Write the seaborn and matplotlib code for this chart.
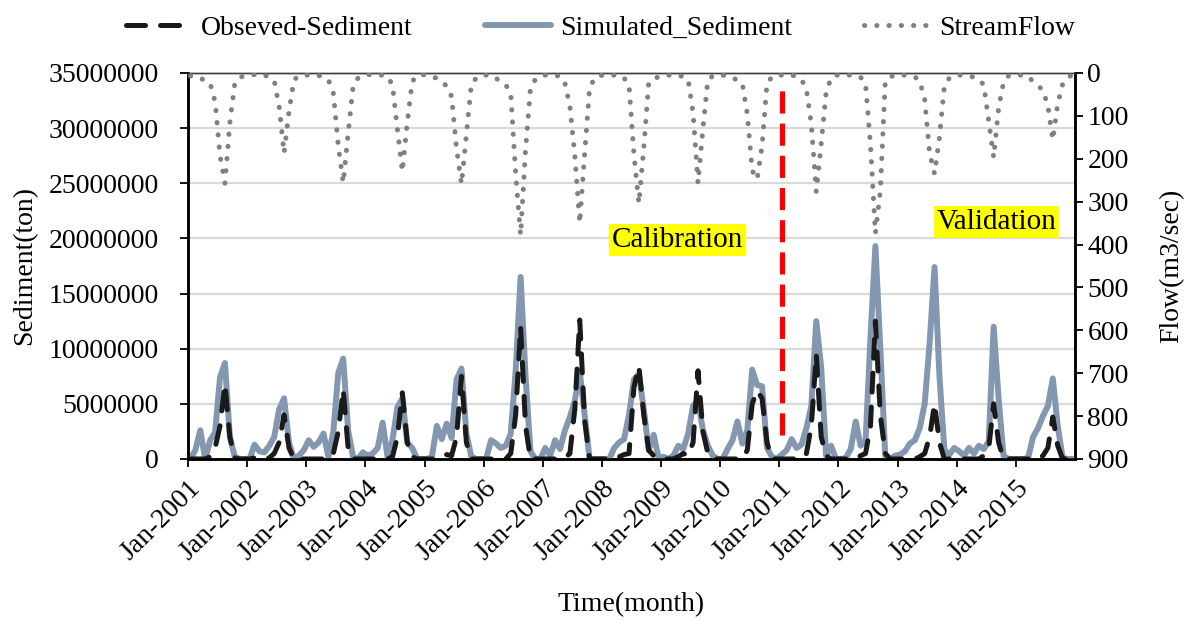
import numpy as np
import pandas as pd
import matplotlib
matplotlib.use("Agg")
import matplotlib.pyplot as plt
import seaborn as sns

# ---------------- data (monthly, Jan-2001 .. Dec-2015) ----------------
years = list(range(2001, 2016))
tick_labels = [f"Jan-{y}" for y in years]

# observed sediment, million tons
observed_mt = [
    0.0, 0.0, 0.0, 0.0, 0.2, 1.0, 3.0, 6.8, 2.0, 0.1, 0.0, 0.0,   # 2001
    0.0, 0.1, 0.1, 0.0, 0.1, 0.5, 1.5, 4.0, 1.0, 0.0, 0.0, 0.0,   # 2002
    0.0, 0.0, 0.0, 0.0, 0.0, 0.5, 2.5, 6.3, 1.0, 0.0, 0.0, 0.0,   # 2003
    0.0, 0.0, 0.0, 0.0, 0.0, 0.2, 2.0, 6.0, 1.5, 0.2, 0.0, 0.0,   # 2004
    0.0, 0.0, 0.0, 0.2, 0.4, 0.3, 2.0, 7.5, 1.5, 0.0, 0.0, 0.0,   # 2005
    0.0, 0.0, 0.0, 0.0, 0.0, 0.5, 4.0, 12.0, 3.0, 0.0, 0.0, 0.0,  # 2006
    0.0, 0.0, 0.0, 0.0, 0.1, 0.5, 4.5, 12.6, 3.5, 0.0, 0.0, 0.0,  # 2007
    0.0, 0.0, 0.0, 0.2, 0.4, 0.5, 6.5, 8.4, 4.0, 0.8, 0.3, 0.0,   # 2008
    0.0, 0.0, 0.0, 0.2, 0.5, 0.3, 1.5, 8.0, 2.5, 0.5, 0.0, 0.0,   # 2009
    0.0, 0.0, 0.0, 0.0, 0.0, 0.8, 5.0, 6.2, 5.5, 1.5, 0.0, 0.0,   # 2010
    0.0, 0.0, 0.0, 0.0, 0.0, 0.5, 3.0, 9.5, 2.0, 0.3, 0.0, 0.0,   # 2011
    0.0, 0.0, 0.0, 0.0, 0.3, 0.5, 3.0, 12.5, 4.0, 0.5, 0.0, 0.0,  # 2012
    0.0, 0.0, 0.0, 0.0, 0.2, 0.5, 2.0, 5.0, 1.5, 0.0, 0.0, 0.0,   # 2013
    0.0, 0.0, 0.0, 0.0, 0.0, 0.3, 1.0, 5.0, 1.5, 0.0, 0.0, 0.0,   # 2014
    0.0, 0.0, 0.0, 0.0, 0.0, 0.3, 1.0, 3.8, 1.2, 0.0, 0.0, 0.0,   # 2015
]

# simulated sediment, million tons
simulated_mt = [
    0.0, 0.8, 2.6, 0.0, 1.7, 2.4, 7.4, 8.7, 2.0, 0.2, 0.0, 0.0,   # 2001
    0.0, 1.3, 0.7, 0.6, 1.2, 2.0, 4.5, 5.5, 1.5, 0.0, 0.3, 0.8,   # 2002
    1.7, 1.1, 1.5, 2.3, 0.2, 2.5, 7.8, 9.1, 2.6, 0.2, 0.0, 0.6,   # 2003
    0.3, 0.5, 1.0, 3.3, 0.2, 1.7, 4.7, 5.5, 1.5, 1.0, 0.0, 0.0,   # 2004
    0.0, 0.2, 3.0, 1.8, 3.2, 1.9, 7.2, 8.2, 2.3, 0.2, 0.0, 0.0,   # 2005
    0.0, 1.7, 1.4, 1.0, 1.2, 2.3, 8.0, 16.5, 7.5, 0.7, 0.0, 0.0,  # 2006
    1.0, 0.3, 1.7, 0.9, 2.6, 3.8, 5.3, 7.9, 4.0, 0.0, 0.0, 0.0,   # 2007
    0.0, 0.0, 1.0, 1.5, 1.8, 4.0, 7.2, 7.7, 4.5, 0.8, 2.2, 0.1,   # 2008
    0.2, 0.0, 0.3, 1.2, 0.9, 2.3, 4.8, 5.3, 2.6, 1.2, 0.3, 0.0,   # 2009
    0.0, 0.9, 1.7, 3.4, 1.4, 2.6, 8.1, 6.7, 6.6, 1.0, 0.2, 0.0,   # 2010
    0.4, 0.8, 1.8, 1.0, 1.3, 2.8, 4.8, 12.5, 8.3, 0.3, 1.2, 0.0,  # 2011
    0.0, 0.1, 0.9, 3.4, 1.2, 1.6, 11.0, 19.3, 10.0, 0.3, 0.0, 0.3,  # 2012
    0.4, 0.7, 1.4, 1.7, 2.8, 5.0, 10.5, 17.4, 7.5, 0.8, 0.4, 1.0,   # 2013
    0.7, 0.3, 1.0, 0.5, 1.2, 0.9, 1.6, 12.0, 5.5, 0.3, 0.0, 0.0,    # 2014
    0.0, 0.0, 0.1, 2.0, 2.8, 3.9, 4.8, 7.3, 3.0, 0.1, 0.0, 0.0,     # 2015
]

# stream flow, m3/sec
streamflow = [
    7, 10, 12, 18, 24, 67, 192, 257, 116, 24, 10, 7,    # 2001
    5, 4, 4, 5, 10, 18, 78, 187, 90, 16, 7, 5,          # 2002
    5, 4, 6, 9, 16, 47, 170, 256, 141, 32, 12, 7,       # 2003
    4, 4, 5, 5, 8, 28, 131, 230, 115, 20, 6, 4,         # 2004
    5, 9, 12, 22, 30, 55, 176, 259, 144, 26, 12, 5,     # 2005
    5, 5, 12, 21, 28, 47, 236, 378, 180, 35, 15, 7,     # 2006
    5, 5, 6, 7, 24, 78, 192, 350, 187, 35, 12, 6,       # 2007
    5, 5, 5, 5, 12, 28, 190, 304, 174, 22, 14, 9,       # 2008
    7, 5, 5, 5, 9, 16, 93, 257, 129, 16, 7, 7,          # 2009
    5, 8, 12, 16, 25, 95, 228, 248, 170, 25, 9, 5,      # 2010
    5, 4, 5, 8, 15, 38, 120, 277, 165, 45, 12, 5,       # 2011
    5, 5, 5, 6, 10, 25, 168, 374, 275, 20, 9, 5,        # 2012
    5, 5, 7, 9, 19, 61, 187, 235, 150, 30, 12, 7,       # 2013
    5, 5, 7, 10, 15, 28, 113, 197, 82, 22, 7, 5,        # 2014
    5, 5, 8, 20, 30, 40, 77, 156, 72, 26, 10, 5,        # 2015
]

split_month = 120.6  # calibration / validation boundary (months from Jan-2001)

# ---------------- figure ----------------
sns.set_theme(style="white")
plt.rcParams["font.family"] = ["Liberation Serif", "DejaVu Serif"]
plt.rcParams["font.size"] = 20
plt.rcParams["text.color"] = "black"
plt.rcParams["axes.labelcolor"] = "black"
plt.rcParams["xtick.color"] = "black"
plt.rcParams["ytick.color"] = "black"

n = len(simulated_mt)
df = pd.DataFrame({
    "month": np.arange(n) + 0.5,
    "Observed": np.array(observed_mt) * 1e6,
    "Simulated": np.array(simulated_mt) * 1e6,
    "Flow": streamflow,
})

fig = plt.figure(figsize=(11.89, 6.21), dpi=100)
ax = fig.add_axes([0.1581, 0.2609, 0.746, 0.6216])
ax2 = ax.twinx()

# grid
ax.set_axisbelow(True)
ax.yaxis.grid(True, color="#D9D9D9", linewidth=1.6)
ax.xaxis.grid(False)

sns.lineplot(data=df, x="month", y="Simulated", ax=ax, color="#8497B0",
             linewidth=4.3, label="Simulated_Sediment", zorder=3,
             solid_joinstyle="round")
sns.lineplot(data=df, x="month", y="Observed", ax=ax, color="#1A1A1A",
             linewidth=3.6, linestyle=(0, (3.8, 3.0)), dash_capstyle="round",
             label="Obseved-Sediment", zorder=4)
sns.lineplot(data=df, x="month", y="Flow", ax=ax2, color="#808080",
             linewidth=3.6, linestyle=(0, (0.05, 2.4)), dash_capstyle="round",
             label="StreamFlow", zorder=3)

# calibration / validation split
ax.plot([split_month, split_month], [2.2e6, 33.6e6], color="#FF0000",
        linewidth=3.8, linestyle=(0, (4.2, 1.9)), zorder=5)

ax.text(99.4, 19.86e6, "Calibration", ha="center", va="center", fontsize=21,
        color="black",
        bbox=dict(facecolor="#FFFF00", edgecolor="none", pad=2), zorder=6)
ax.text(164.1, 21.5e6, "Validation", ha="center", va="center", fontsize=21,
        color="black",
        bbox=dict(facecolor="#FFFF00", edgecolor="none", pad=2), zorder=6)

# axes
ax.set_xlim(0, n)
ax.set_ylim(0, 35e6)
ax.set_yticks(np.arange(0, 35e6 + 1, 5e6))
ax.set_yticklabels([f"{int(v)}" for v in np.arange(0, 35e6 + 1, 5e6)])
ax.set_xticks(np.arange(0, 12 * len(tick_labels), 12))
ax.set_xticklabels(tick_labels, rotation=45, ha="right", rotation_mode="anchor")

ax2.set_ylim(900, 0)
ax2.set_yticks(np.arange(0, 901, 100))

ax.tick_params(axis="y", which="both", left=True, direction="out", length=6,
               width=1.3, pad=15, labelsize=20, colors="black")
ax.tick_params(axis="x", which="both", bottom=True, direction="out", length=6,
               width=1.3, pad=6, labelsize=20, colors="black")
ax2.tick_params(axis="y", which="both", right=True, direction="out", length=6,
                width=1.3, pad=3, labelsize=20, colors="black")

for side in ["left", "bottom", "right"]:
    ax.spines[side].set_color("black")
    ax.spines[side].set_linewidth(1.8)
    ax2.spines[side].set_color("black")
    ax2.spines[side].set_linewidth(1.8)
ax.spines["top"].set_color("#404040")
ax.spines["top"].set_linewidth(1.0)
ax2.spines["top"].set_color("#404040")
ax2.spines["top"].set_linewidth(1.0)

ax.set_xlabel("Time(month)", fontsize=20, color="black")
ax.set_ylabel("Sediment(ton)", fontsize=20, color="black")
ax2.set_ylabel("Flow(m3/sec)", fontsize=20, color="black")
ax.xaxis.set_label_coords(0.5, -0.345)
ax.yaxis.set_label_coords(-0.17, 0.5)
ax2.yaxis.set_label_coords(1.095, 0.5)

# legend
h1, l1 = ax.get_legend_handles_labels()
h2, l2 = ax2.get_legend_handles_labels()
handles = dict(zip(l1 + l2, h1 + h2))
order = ["Obseved-Sediment", "Simulated_Sediment", "StreamFlow"]
if ax.get_legend() is not None:
    ax.get_legend().remove()
if ax2.get_legend() is not None:
    ax2.get_legend().remove()
leg = fig.legend([handles[k] for k in order], order, loc="upper center",
                 bbox_to_anchor=(0.505, 1.015), ncol=3, frameon=False,
                 fontsize=20, handlelength=2.4, columnspacing=2.6,
                 handletextpad=0.3)
for t in leg.get_texts():
    t.set_color("black")

fig.savefig("out.png", dpi=100)
